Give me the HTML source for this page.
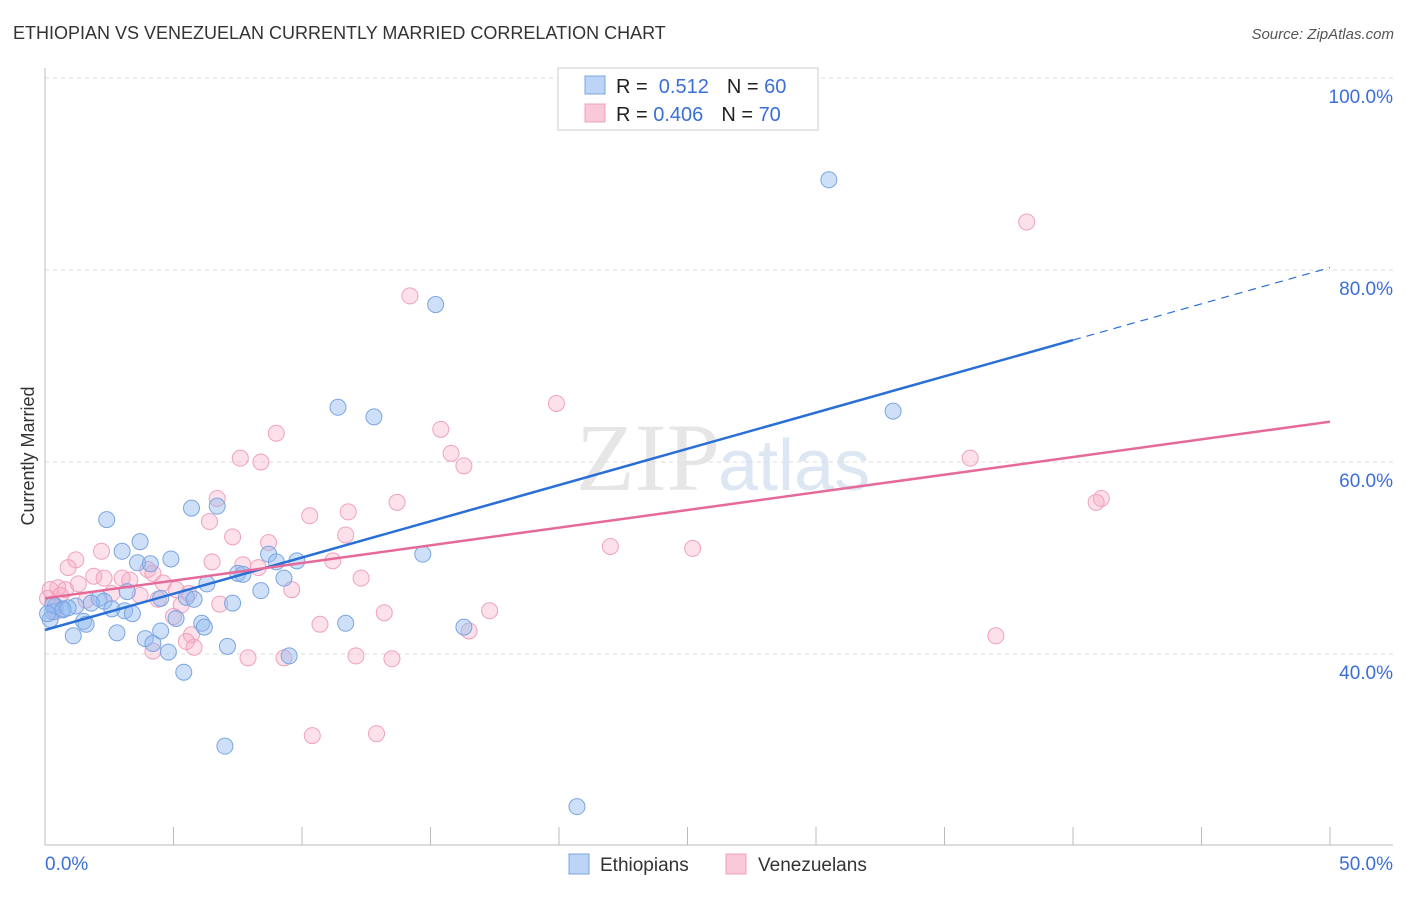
<!DOCTYPE html>
<html><head><meta charset="utf-8"><style>
body{margin:0;background:#fff;font-family:"Liberation Sans",sans-serif}
</style></head><body>
<svg id="chart" width="1406" height="892" viewBox="0 0 1406 892" xmlns="http://www.w3.org/2000/svg" font-family="Liberation Sans, sans-serif">
<text x="13" y="39" font-size="18" fill="#333">ETHIOPIAN VS VENEZUELAN CURRENTLY MARRIED CORRELATION CHART</text>
<text x="1394" y="39" font-size="15" fill="#555" text-anchor="end" font-style="italic">Source: ZipAtlas.com</text>
<text x="720" y="490" font-size="96" text-anchor="end" fill="#e6e6e6" font-family="Liberation Serif, serif">ZIP</text>
<text x="718" y="490" font-size="72" fill="#dde6f3">atlas</text>
<g id="grid"></g>
<g id="axes"></g>
<g id="pts"></g>
<g id="lines"></g>
<text transform="translate(34,456) rotate(-90)" font-size="18" fill="#333" text-anchor="middle">Currently Married</text>
<g>
<rect x="558" y="68" width="260" height="62" fill="#fff" stroke="#ccc"/>
<rect x="585" y="76" width="20" height="18" fill="#bcd5f7" stroke="#7aa5e0"/>
<rect x="585" y="104" width="20" height="18" fill="#f9c9da" stroke="#f0a0bd"/>
<text x="616" y="93" font-size="20" fill="#222">R = <tspan fill="#3a6fd8">&#160;0.512</tspan><tspan dx="18">N = </tspan><tspan fill="#3a6fd8">60</tspan></text>
<text x="616" y="121" font-size="20" fill="#222">R = <tspan fill="#3a6fd8">0.406</tspan><tspan dx="18">N = </tspan><tspan fill="#3a6fd8">70</tspan></text>
</g>
<g>
<rect x="569" y="854" width="20" height="20" fill="#bcd5f7" stroke="#7aa5e0"/>
<text x="600" y="871" font-size="19" fill="#333">Ethiopians</text>
<rect x="726" y="854" width="20" height="20" fill="#f9c9da" stroke="#f0a0bd"/>
<text x="758" y="871" font-size="19" fill="#333">Venezuelans</text>
</g>
</svg>
<script>
const yTicks=[100,80,60,40];
const yTickLabels=["100.0%","80.0%","60.0%","40.0%"];
const xTicks=[0,5,10,15,20,25,30,35,40,45,50];
const blueX=[30.5,15.2,11.4,12.8,33.0,2.4,5.7,6.7,3.7,3.0,4.9,3.6,4.1,8.7,9.8,9.0,14.7,7.5,7.7,9.3,6.3,8.4,3.2,4.5,5.5,5.8,2.1,2.3,1.8,1.2,0.4,0.7,0.3,0.2,2.6,3.1,3.4,7.3,5.1,6.1,6.2,1.5,1.6,2.8,1.1,4.5,11.7,16.3,3.9,4.2,4.8,7.1,9.5,5.4,7.0,20.7,0.3,0.7,0.1,0.9];
const blueY=[89.4,76.4,65.7,64.7,65.3,54.0,55.2,55.4,51.7,50.7,49.9,49.5,49.4,50.4,49.7,49.6,50.4,48.4,48.3,47.9,47.3,46.6,46.5,45.8,45.9,45.7,45.8,45.5,45.3,45.0,45.0,44.7,44.4,43.6,44.7,44.5,44.2,45.3,43.7,43.2,42.8,43.4,43.1,42.2,41.9,42.4,43.2,42.8,41.6,41.1,40.2,40.8,39.8,38.1,30.4,24.1,45.1,44.6,44.2,44.8];
const pinkX=[38.2,14.2,19.9,9.0,15.4,15.8,16.3,7.6,8.4,36.0,41.1,40.9,6.7,13.7,11.8,10.3,6.4,7.3,11.7,8.7,22.0,25.2,2.2,1.2,6.5,7.7,8.3,11.2,0.9,4.0,4.2,1.9,3.0,2.3,3.3,1.3,0.5,4.6,0.2,0.8,5.1,9.6,2.6,3.7,5.6,4.4,5.3,6.8,12.3,17.3,13.2,10.7,16.5,5.0,5.7,5.5,5.8,4.2,37.0,7.9,9.3,12.1,13.5,10.4,12.9,0.1,0.3,0.4,0.6,1.6];
const pinkY=[85.0,77.3,66.1,63.0,63.4,60.9,59.6,60.4,60.0,60.4,56.2,55.8,56.2,55.8,54.8,54.4,53.8,52.2,52.4,51.6,51.2,51.0,50.7,49.8,49.6,49.3,49.0,49.7,49.0,48.8,48.4,48.1,47.9,47.9,47.7,47.3,46.9,47.4,46.7,46.7,46.7,46.7,46.3,46.1,46.3,45.7,45.1,45.2,47.9,44.5,44.3,43.1,42.4,43.9,42.0,41.3,40.7,40.3,41.9,39.6,39.6,39.8,39.5,31.5,31.7,45.8,45.2,44.4,46.1,45.6];
const blueFit=[42.5,72.7];
const pinkFit=[45.8,64.2];
const NS="http://www.w3.org/2000/svg";
const X=v=>45+v*25.7, Y=v=>78+(100-v)*9.6;
function mk(t,a,p){const e=document.createElementNS(NS,t);for(const k in a)e.setAttribute(k,a[k]);p.appendChild(e);return e;}
const grid=document.getElementById('grid'),axes=document.getElementById('axes'),pts=document.getElementById('pts'),lines=document.getElementById('lines');
yTicks.forEach((t,i)=>{
 const l=mk('line',{x1:45,x2:1393,y1:Y(t),y2:Y(t),stroke:'#ddd','stroke-dasharray':'4,4'},grid);
 
 
 const tx=mk('text',{x:1393,y:Y(t)+25,'font-size':19,fill:'#3a6fd8','text-anchor':'end'},axes);
 tx.textContent=yTickLabels[i];
 
 
});
const ya=mk('line',{x1:45,x2:45,y1:68,y2:845,stroke:'#bbb'},axes);


const xa=mk('line',{x1:45,x2:1393,y1:845,y2:845,stroke:'#bbb'},axes);


xTicks.forEach(t=>{
 const l=mk('line',{x1:X(t),x2:X(t),y1:827,y2:845,stroke:'#bbb'},axes);
 
 
});
[[0,'0.0%','start',45],[50,'50.0%','end',1393]].forEach(d=>{
 const tx=mk('text',{x:d[3],y:870,'font-size':19,fill:'#3a6fd8','text-anchor':d[2]},axes);
 tx.textContent=d[1];
 
 
});
function scatter(xs,ys,fill,stroke,name){xs.forEach((x,i)=>{
 const c=mk('circle',{cx:X(x),cy:Y(ys[i]),r:8,fill:fill,stroke:stroke,'stroke-width':1},pts);
 
 
});}
scatter(pinkX,pinkY,'rgba(245,170,195,0.35)','#f0a0bd','venezuelan-point');
scatter(blueX,blueY,'rgba(147,187,240,0.45)','#7aa5e0','ethiopian-point');
const by=x=>blueFit[0]+(blueFit[1]-blueFit[0])*x/40;
const bl=mk('line',{x1:X(0),y1:Y(by(0)),x2:X(40),y2:Y(by(40)),stroke:'#2a6fd6','stroke-width':2.5},lines);


const bd=mk('line',{x1:X(40),y1:Y(by(40)),x2:X(50),y2:Y(by(50)),stroke:'#2a6fd6','stroke-width':1.2,'stroke-dasharray':'8,6'},lines);


const pl=mk('line',{x1:X(0),y1:Y(pinkFit[0]),x2:X(50),y2:Y(pinkFit[1]),stroke:'#e56a99','stroke-width':2.5},lines);


</script>
</body></html>
